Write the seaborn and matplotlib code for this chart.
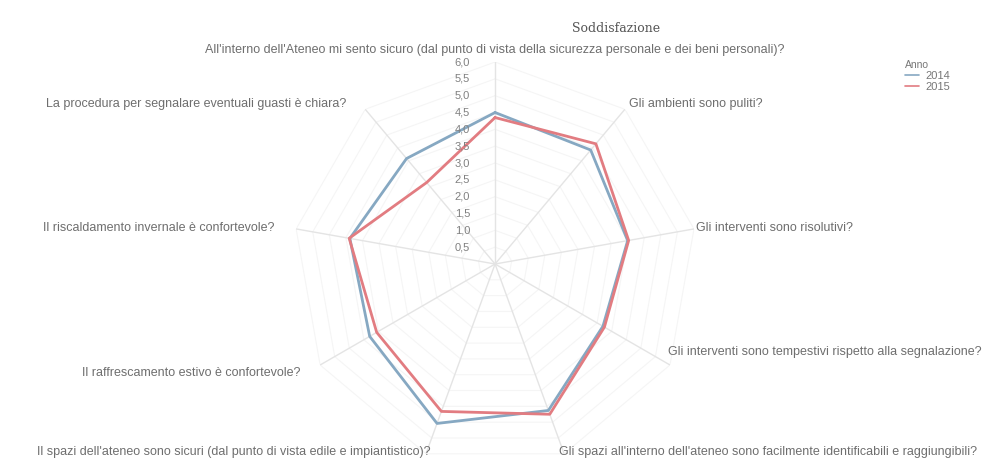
import numpy as np
import pandas as pd
import seaborn as sns
import matplotlib.pyplot as plt

# Dati del grafico
domande = [
    "All'interno dell'Ateneo mi sento sicuro (dal punto di vista della sicurezza personale e dei beni personali)?",
    "Gli ambienti sono puliti?",
    "Gli interventi sono risolutivi?",
    "Gli interventi sono tempestivi rispetto alla segnalazione?",
    "Gli spazi all'interno dell'ateneo sono facilmente identificabili e raggiungibili?",
    "Il spazi dell'ateneo sono sicuri (dal punto di vista edile e impiantistico)?",
    "Il raffrescamento estivo è confortevole?",
    "Il riscaldamento invernale è confortevole?",
    "La procedura per segnalare eventuali guasti è chiara?",
]
anni = ["2014", "2015"]
valori_2014 = [4.5, 4.42, 4.0, 3.7, 4.63, 5.04, 4.3, 4.38, 4.09]
valori_2015 = [4.35, 4.66, 4.03, 3.75, 4.75, 4.66, 4.06, 4.4, 3.16]
tick_valori = [0.5, 1.0, 1.5, 2.0, 2.5, 3.0, 3.5, 4.0, 4.5, 5.0, 5.5, 6.0]
colori = ["#86a8c2", "#e27c81"]

sns.set_theme(style="white")
plt.rcParams['font.family'] = ['Liberation Sans', 'DejaVu Sans']

n = len(domande)
angoli = np.arange(n) * 2 * np.pi / n

# dataframe in formato lungo, il primo punto ripetuto a 2*pi chiude il poligono
righe = []
for anno, vals in zip(anni, [valori_2014, valori_2015]):
    for k in range(n):
        righe.append({'theta': angoli[k], 'valore': vals[k], 'Anno': anno})
    righe.append({'theta': 2 * np.pi, 'valore': vals[0], 'Anno': anno})
df = pd.DataFrame(righe)

fig = plt.figure(figsize=(9.85, 4.68), dpi=100)
ax = fig.add_axes([0.2975, 0.0043, 0.4102, 0.8632], projection='polar')
ax.set_theta_zero_location('N')
ax.set_theta_direction(-1)
ax.set_ylim(0, 6)
ax.grid(False)
ax.spines['polar'].set_visible(False)
ax.set_xticks([])
ax.set_yticks([])
ax.set_facecolor('white')

# anelli e raggi della griglia
giro = np.append(angoli, 2 * np.pi)
for r in tick_valori:
    ax.plot(giro, [r] * len(giro), color='#f5f5f5', lw=0.8, zorder=1)
for t in angoli:
    ax.plot([t, t], [0, 6], color='#e4e4e4', lw=1, zorder=1)

sns.lineplot(data=df, x='theta', y='valore', hue='Anno', hue_order=anni,
             palette=colori, sort=False, estimator=None, linewidth=2, ax=ax, zorder=3)
ax.set_xlabel('')
ax.set_ylabel('')

# etichette dei valori sul raggio verticale
for r in tick_valori:
    ax.annotate(f"{r:.1f}".replace('.', ','), xy=(0, r), xytext=(-25, 0),
                textcoords='offset pixels', ha='right', va='center',
                fontsize=8, color='#808080')

# etichette delle domande
pos = [
    ((0, 12), 'center'),
    ((4, 5), 'left'),
    ((2, 1), 'left'),
    ((-2, 13), 'left'),
    ((-5, 2), 'left'),
    ((5, 2), 'right'),
    ((-20, -8), 'right'),
    ((-22, 1), 'right'),
    ((-19, 5), 'right'),
]
for t, testo, (off, ha) in zip(angoli, domande, pos):
    ax.annotate(testo, xy=(t, 6), xytext=off, textcoords='offset pixels',
                ha=ha, va='center', fontsize=9, color='#6e6e6e', annotation_clip=False)

fig.text(616 / 985, 1 - 28 / 468, "Soddisfazione", family='DejaVu Serif',
         fontsize=9, color='#555555', ha='center', va='center')

handles, labels = ax.get_legend_handles_labels()
if ax.get_legend() is not None:
    ax.get_legend().remove()
leg = fig.legend(handles, labels, title='Anno', loc='upper left',
                 bbox_to_anchor=(895 / 985, 1 - 50 / 468), frameon=False,
                 fontsize=8, title_fontsize=7.5, handlelength=1.3,
                 handletextpad=0.5, labelspacing=0.1, alignment='left')
for line in leg.get_lines():
    line.set_linewidth(1.2)
for txt in leg.get_texts():
    txt.set_color('#777777')
leg.get_title().set_color('#777777')

fig.savefig('out.png', dpi=100, facecolor='white')
